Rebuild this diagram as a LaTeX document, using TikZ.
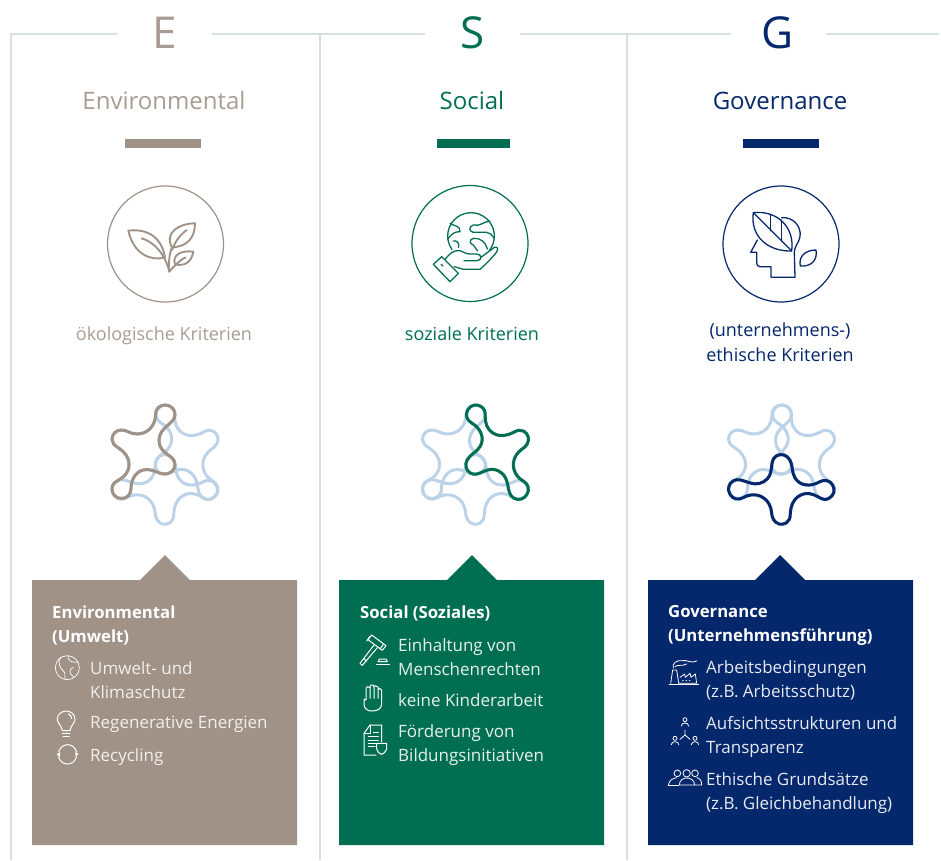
\documentclass[tikz,border=0pt]{standalone}
\usepackage{fontspec}
\setmainfont{Open Sans}
\definecolor{ebrown}{HTML}{A09287}
\definecolor{ehead}{HTML}{A89C92}
\definecolor{sgreen}{HTML}{006F51}
\definecolor{gnavy}{HTML}{05276B}
\definecolor{netblue}{HTML}{BBD2E8}
\definecolor{frame}{HTML}{D6E0E0}
\definecolor{etext}{HTML}{F2EFEC}
\definecolor{stext}{HTML}{E6F0EC}
\definecolor{gtext}{HTML}{E6EAF2}
\tikzset{
  frameline/.style={draw=frame,line width=1.3pt},
  bigletter/.style={font=\fontsize{44}{48}\selectfont,anchor=center},
  headtext/.style={font=\fontsize{24}{28}\selectfont,anchor=center},
  crit/.style={font=\fontsize{18}{25}\selectfont,align=center,anchor=center},
  boxhead/.style={font=\fontsize{16.7}{24}\selectfont\bfseries,align=left,anchor=west,text=white,inner sep=0pt},
  item/.style={font=\fontsize{17}{24}\selectfont,align=left,anchor=west,inner sep=0pt},
  icon/.style={line width=1.3pt,line join=round,line cap=round},
  wicon/.style={draw=white,line width=1pt,line join=round,line cap=round},
  netline/.style={line width=3pt},
}
\newcommand{\netpath}{(0,-59.5) .. controls (5.5,-59.5) and (10,-55.5) .. (10,-50)
 .. controls (10,-40) and (-6,-38) .. (-6,-24)
 .. controls (-6,-10) and (10,-10) .. (10,0)
 .. controls (10,5.5) and (5.5,9.5) .. (0,9.5)
 .. controls (-7,9.5) and (-11,5) .. (-18,5)
 .. controls (-28,5) and (-34,14) .. (-34,24)
 .. controls (-34,30) and (-38,34) .. (-43.5,34)
 .. controls (-49,34) and (-53,30) .. (-53,24.5)
 .. controls (-53,20) and (-50.5,18) .. (-47,16)
 .. controls (-41,12.5) and (-36,8) .. (-36,0)
 .. controls (-36,-8) and (-41,-13) .. (-47,-17)
 .. controls (-50.5,-19) and (-53,-21.5) .. (-53,-25)
 .. controls (-53,-30.5) and (-49,-34.5) .. (-43.5,-34.5)
 .. controls (-38,-34.5) and (-35,-30.5) .. (-28,-30.5)
 .. controls (-17,-30.5) and (-9.5,-39) .. (-9.5,-50)
 .. controls (-9.5,-55.5) and (-5.5,-59.5) .. (0,-59.5) -- cycle}
\newcommand{\netstar}[3]{%
 \begin{scope}[shift={(#1,464.5)}]
  \foreach \a in {0,120,240}{\draw[netline,draw=netblue,rotate=\a] \netpath;}
  \draw[netline,draw=#2,rotate=#3] \netpath;
 \end{scope}}
\begin{document}
\begin{tikzpicture}[x=1pt,y=-1pt]
\useasboundingbox (0,0) rectangle (941,860);
% frame
\draw[frameline] (11,860) -- (11,34) -- (117,34);
\draw[frameline] (212,34) -- (425,34);
\draw[frameline] (520,34) -- (731,34);
\draw[frameline] (826,34) -- (939,34);
\draw[frameline] (320,34) -- (320,860);
\draw[frameline] (627,34) -- (627,860);
% headings
\node[bigletter,text=ehead] (eL) at (165,33) {E};
\node[bigletter,text=sgreen] (sL) at (472.5,33) {S};
\node[bigletter,text=gnavy] (gL) at (778,33) {G};
\node[headtext,text=ehead] (eH) at (164,100.5) {Environmental};
\node[headtext,text=sgreen] (sH) at (472,100.5) {Social};
\node[headtext,text=gnavy] (gH) at (780,101) {Governance};
% bars
\fill[ebrown] (125,139) rectangle (201,148);
\fill[sgreen] (437,139) rectangle (510,148);
\fill[gnavy] (743,139) rectangle (819,148);
% circles
\draw[ebrown,line width=1.2pt] (165.5,244) circle[radius=58];
\draw[sgreen,line width=1.2pt] (470,243.5) circle[radius=58];
\draw[gnavy,line width=1.2pt] (781,244) circle[radius=58];
% leaves icon
\begin{scope}[shift={(90,170)},scale=1/3,icon,draw=ebrown,line width=1.9pt]
 \draw (115,182) .. controls (170,175) and (215,200) .. (225,262) .. controls (180,275) and (130,250) .. (115,182) -- cycle;
 \draw (155,205) .. controls (190,215) and (225,250) .. (238,305) .. controls (235,280) and (238,250) .. (246,232);
 \draw (315,160) .. controls (265,160) and (222,190) .. (246,232) .. controls (295,230) and (315,200) .. (315,160) -- cycle;
 \draw (290,180) .. controls (270,195) and (255,215) .. (246,240);
 \draw (310,245) .. controls (275,240) and (245,255) .. (255,283) .. controls (285,290) and (305,275) .. (310,245) -- cycle;
 \draw (238,305) .. controls (250,290) and (270,270) .. (287,262);
\end{scope}
% globe in hand icon
\begin{scope}[shift={(395,170)},scale=1/3,icon,draw=sgreen]
 \draw (170.7,238.2) arc[start angle=145,end angle=397,radius=70];
 \draw (115,283) -- (140,260) -- (190,310) -- (165,335) -- cycle;
 \draw (138,283) -- (144,288);
 \draw (150,268) .. controls (165,250) and (175,240) .. (195,242) .. controls (205,245) and (212,252) .. (225,252) -- (245,252) .. controls (262,252) and (262,272) .. (245,272) -- (207,272);
 \draw (258,262) -- (298,232) .. controls (308,228) and (312,238) .. (302,250) .. controls (285,270) and (270,285) .. (255,298) -- (205,298) -- (178,290);
 \draw (165,160) .. controls (180,170) and (195,165) .. (195,185) .. controls (180,185) and (170,190) .. (158,208);
 \draw (175,213) .. controls (185,210) and (195,220) .. (190,232);
 \draw (285,153) .. controls (265,155) and (255,170) .. (235,165) .. controls (220,170) and (222,185) .. (235,187) -- (275,187) .. controls (285,187) and (290,195) .. (298,205);
 \draw (277,237) .. controls (270,215) and (260,205) .. (235,205) .. controls (220,210) and (225,222) .. (235,225) -- (248,243);
\end{scope}
% head icon
\begin{scope}[shift={(705,170)},scale=1/3,icon,draw=gnavy]
 \draw (145,128) .. controls (215,120) and (270,170) .. (260,243) .. controls (190,245) and (135,200) .. (145,128) -- cycle;
 \draw (145,128) -- (260,243);
 \draw (197,135) -- (197,182);
 \draw (230,150) -- (230,214);
 \draw (230,143) .. controls (265,140) and (290,170) .. (285,200) .. controls (282,220) and (268,225) .. (268,250) -- (270,322) -- (198,322) -- (198,290) -- (165,290) .. controls (158,290) and (155,285) .. (155,278) -- (155,247) -- (137,247) -- (157,210);
 \draw (333,240) .. controls (300,240) and (280,260) .. (286,288) .. controls (320,290) and (338,270) .. (333,240) -- cycle;
\end{scope}
% criteria
\node[crit,text=ehead] (eC) at (164,335.5) {ökologische Kriterien};
\node[crit,text=sgreen] (sC) at (472,334) {soziale Kriterien};
\node[crit,text=gnavy] (gC) at (780,342) {(unternehmens-)\\ethische Kriterien};
% networks
\netstar{165}{ebrown}{0}
\netstar{475.5}{sgreen}{240}
\netstar{781.5}{gnavy}{120}
% boxes
\fill[ebrown] (32,580) -- (140,580) -- (165,555) -- (190,580) -- (297,580) -- (297,845) -- (32,845) -- cycle;
\fill[sgreen] (339,580) -- (447,580) -- (472,555) -- (497,580) -- (604,580) -- (604,845) -- (339,845) -- cycle;
\fill[gnavy] (648,580) -- (755,580) -- (780,555) -- (805,580) -- (913,580) -- (913,845) -- (648,845) -- cycle;
% E box
\node[boxhead] (eB) at (52,625) {Environmental\\(Umwelt)};
\node[item,text=etext] (e1) at (90,680) {Umwelt- und\\Klimaschutz};
\node[item,text=etext] (e2) at (90,724.5) {Regenerative Energien};
\node[item,text=etext] (e3) at (90,757) {Recycling};
\begin{scope}[shift={(40,640)},scale=1/3,wicon,line width=0.7pt]
 \draw (82,83) circle[radius=36];
 \draw (62,52) .. controls (50,70) and (62,85) .. (72,95) .. controls (78,105) and (72,112) .. (75,118);
 \draw (85,48) .. controls (80,60) and (95,70) .. (115,66);
 \draw (100,82) .. controls (88,85) and (85,100) .. (100,110);
\end{scope}
\begin{scope}[shift={(40,640)},scale=1/3,wicon,line width=1pt]
 \draw (67,272) .. controls (65,255) and (52,250) .. (52,238) .. controls (52,205) and (105,205) .. (105,238) .. controls (105,250) and (92,255) .. (90,272) -- cycle;
 \draw (67,280) -- (90,280) (69,288) -- (88,288);
 \draw (85,222) .. controls (92,224) and (95,230) .. (95,236);
 \draw (56,335) .. controls (62,320) and (72,314) .. (84,314) .. controls (95,314) and (105,322) .. (110,335);
 \draw (110,350) .. controls (104,366) and (94,372) .. (82,372) .. controls (70,372) and (60,364) .. (55,350);
 \fill[white] (50,343) -- (60,336) -- (60,350) -- cycle;
 \fill[white] (116,342) -- (106,335) -- (106,349) -- cycle;
\end{scope}
% S box
\node[boxhead] (sB) at (360,613) {Social (Soziales)};
\node[item,text=stext] (s1) at (398,657) {Einhaltung von\\Menschenrechten};
\node[item,text=stext] (s2) at (398,700.5) {keine Kinderarbeit};
\node[item,text=stext] (s3) at (398,745) {Förderung von\\Bildungsinitiativen};
\begin{scope}[shift={(350,625)},scale=1/3,wicon]
 \draw (65,30) -- (108,62) -- (97,76) -- (54,44) -- cycle;
 \draw (60,34) -- (50,48) (100,58) -- (90,72);
 \draw (72,60) -- (30,115) -- (37,121) -- (82,68);
 \draw (40,100) -- (50,108);
 \draw (88,102) -- (108,102) -- (112,110) -- (84,110) -- cycle;
 \draw (80,118) -- (118,118);
 \draw (42,222) -- (42,238) .. controls (42,250) and (52,258) .. (65,258) .. controls (85,258) and (95,250) .. (95,235) -- (95,195) -- (88,190) -- (84,195) -- (84,220) (84,195) -- (84,186) -- (76,182) -- (72,186) -- (72,220) (72,186) -- (70,180) -- (62,180) -- (60,186) -- (60,220) (60,188) -- (52,185) -- (48,190) -- (48,225) -- (42,222);
 \draw (42,325) -- (60,300) -- (95,300) -- (95,350) (42,325) -- (42,390) -- (78,390);
 \draw (60,300) -- (60,325) -- (42,325);
 \draw (55,335) -- (85,335) (55,345) -- (85,345) (55,355) -- (85,355) (55,365) -- (75,365) (70,322) -- (85,322);
 \draw (80,355) -- (110,355) -- (110,372) .. controls (108,382) and (100,385) .. (95,388) .. controls (88,385) and (82,382) .. (80,372) -- cycle;
\end{scope}
% G box
\node[boxhead] (gB) at (668,625) {Governance\\(Unternehmensführung)};
\node[item,text=gtext] (g1) at (706,680.5) {Arbeitsbedingungen\\(z.B. Arbeitsschutz)};
\node[item,text=gtext] (g2) at (706,737) {Aufsichtsstrukturen und\\Transparenz};
\node[item,text=gtext] (g3) at (706,793) {Ethische Grundsätze\\(z.B. Gleichbehandlung)};
\begin{scope}[shift={(660,650)},scale=1/3,wicon,line width=0.8pt]
 \draw (27,103) -- (116,103);
 \draw (32,100) -- (38,60) -- (50,60) -- (56,100);
 \draw (56,100) -- (110,100) -- (106,72) -- (93,82) -- (90,70) -- (76,82) -- (74,72) -- (60,82);
 \draw (40,55) .. controls (35,40) and (50,30) .. (65,32) .. controls (80,28) and (95,42) .. (110,33);
 \draw (45,50) .. controls (55,42) and (65,50) .. (80,42);
 \draw (68,90) -- (70,90) (78,90) -- (80,90) (88,90) -- (90,90);
 \draw (75,209) circle[radius=6];
 \draw (64,228) .. controls (64,216) and (86,216) .. (86,228);
 \draw (75,240) -- (75,255) -- (60,268) (75,255) -- (90,268);
 \draw (45,265) circle[radius=6];
 \draw (34,284) .. controls (34,272) and (56,272) .. (56,284);
 \draw (105,265) circle[radius=6];
 \draw (94,284) .. controls (94,272) and (116,272) .. (116,284);
 \draw (52,370) circle[radius=10];
 \draw (80,370) circle[radius=11];
 \draw (105,370) circle[radius=10];
 \draw (25,405) .. controls (28,390) and (38,385) .. (50,383);
 \draw (58,405) .. controls (58,390) and (70,384) .. (80,384) .. controls (90,384) and (104,390) .. (104,405) -- cycle;
 \draw (110,383) .. controls (120,385) and (125,392) .. (125,405) -- (106,405);
 \draw (25,405) -- (56,405);
\end{scope}
\end{tikzpicture}
\end{document}
